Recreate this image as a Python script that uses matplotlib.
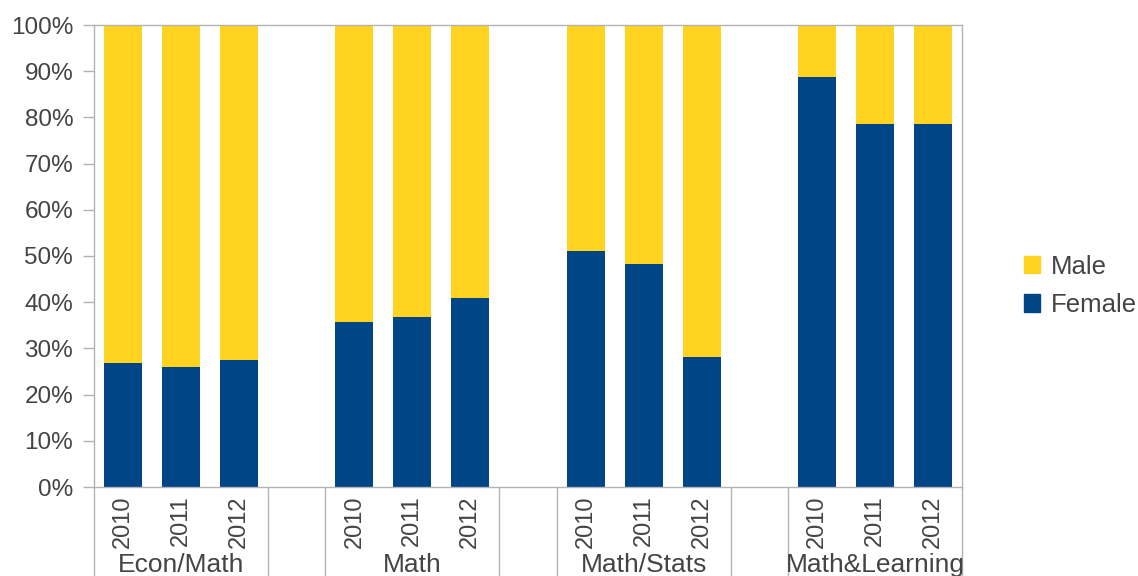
import matplotlib
matplotlib.use("Agg")
import matplotlib.pyplot as plt
import matplotlib.transforms as mtransforms
from matplotlib.lines import Line2D
from matplotlib.patches import Patch

plt.rcParams['font.family'] = ['Liberation Sans', 'DejaVu Sans']

groups = ["Econ/Math", "Math", "Math/Stats", "Math&Learning"]
years = ["2010", "2011", "2012"]
female = [
    [26.8, 26.0, 27.5],
    [35.7, 36.8, 40.9],
    [51.1, 48.3, 28.1],
    [88.7, 78.6, 78.6],
]
series_names = ["Male", "Female"]

c_female = "#004586"
c_male = "#ffd320"
txt = "#444444"
axc = "#b3b3b3"

fig = plt.figure(figsize=(11.38, 5.76), dpi=100)
ax = fig.add_axes([94/1138, 1-487/576, (962-94)/1138, (487-25)/576])

width = 0.66
for g, vals in enumerate(female):
    for j, v in enumerate(vals):
        x = g*4 + j
        ax.bar(x, v/100, width=width, color=c_female, zorder=2)
        ax.bar(x, 1 - v/100, bottom=v/100, width=width, color=c_male, zorder=2)

ax.set_xlim(-0.5, 14.5)
ax.set_ylim(0, 1)
ax.set_yticks([i/10 for i in range(11)])
ax.set_yticklabels([f"{i*10}%" for i in range(11)], fontsize=17.5, color=txt)
ax.tick_params(axis='y', length=8, width=1, color=axc, pad=7)
ax.set_xticks([])
for s in ax.spines.values():
    s.set_color(axc)
    s.set_linewidth(1)

trans = mtransforms.blended_transform_factory(ax.transData, fig.transFigure)
# year labels
for g in range(len(groups)):
    for j, y in enumerate(years):
        ax.text(g*4 + j, 1-495/576, y, transform=trans, rotation=90,
                ha='center', va='top', fontsize=17, color=txt)
    ax.text(g*4 + 1, 1-572/576, groups[g], transform=trans, ha='center',
            va='baseline', fontsize=19, color=txt)

# separators
for xs in [-0.5, 2.5, 3.5, 6.5, 7.5, 10.5, 11.5, 14.5]:
    ax.add_line(Line2D([xs, xs], [1-487/576, 0.0], transform=trans,
                       color=axc, lw=1, clip_on=False))

handles = [Patch(color=c_male), Patch(color=c_female)]
fig.legend(handles, series_names, loc='center left',
           bbox_to_anchor=(1016/1138, 1-286/576), frameon=False,
           fontsize=18.5, handlelength=0.65, handleheight=0.65,
           handletextpad=0.4, labelspacing=0.55, labelcolor=txt,
           borderaxespad=0, borderpad=0.3)

fig.savefig("out.png", dpi=100)
